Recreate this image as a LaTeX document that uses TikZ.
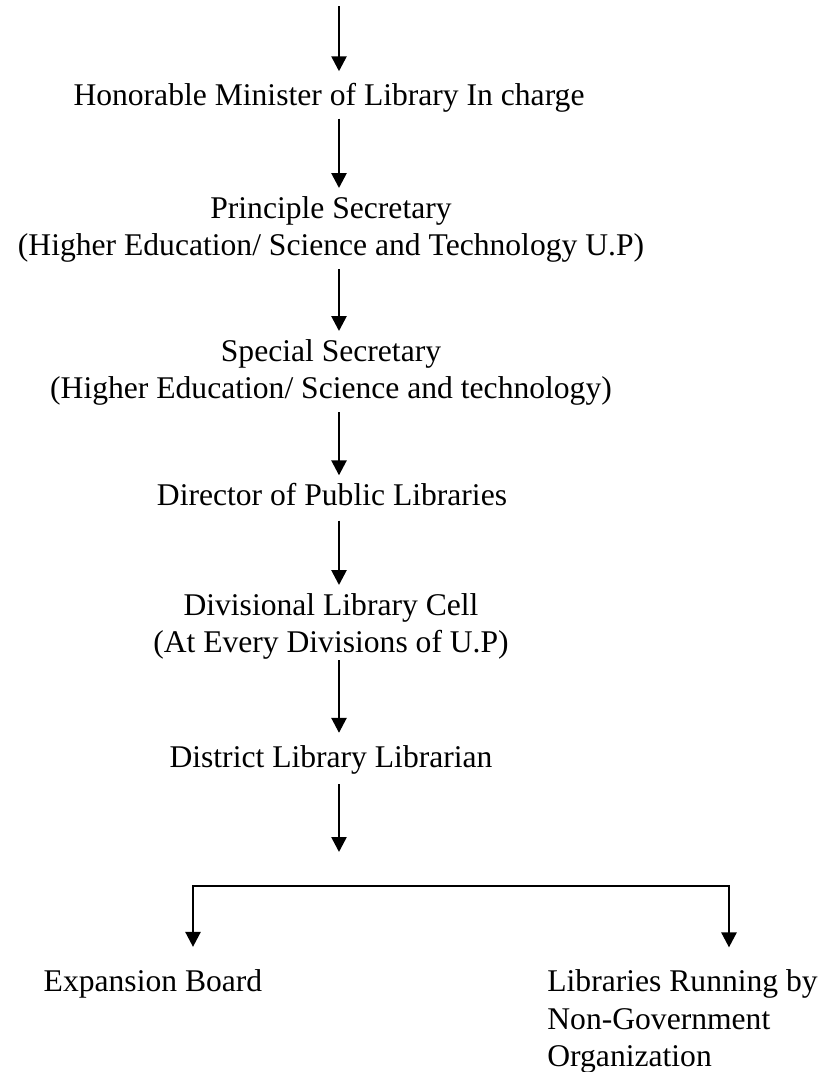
\documentclass[tikz,border=0pt]{standalone}
\usepackage{fontspec}
\setmainfont{Liberation Serif}
\usetikzlibrary{arrows.meta, positioning}

\begin{document}
\begin{tikzpicture}[x=0.5pt, y=-0.5pt,
    post/.style={align=center, inner sep=0pt, font=\fontsize{15.8}{18.8}\selectfont},
    arr/.style={-{Triangle[length=7.5pt, width=7.5pt]}, line width=1.3pt, shorten <=3pt, shorten >=4pt},
    twoarr/.style={{Triangle[length=7.5pt, width=7.5pt]}-{Triangle[length=7.5pt, width=7.5pt]}, line width=1.3pt},
]
\useasboundingbox (0,0) rectangle (824,1072);

% vertical axis of the chart
\coordinate (axis) at (339,0);
\coordinate (start) at (339,6);

% Posts, top to bottom
\node[post] (minister) at (329,97.6) {Honorable Minister of Library In charge};
\node[post] (principal) at (331,229.6) {Principle Secretary\\(Higher Education/ Science and Technology U.P)};
\node[post] (special) at (331,372.6) {Special Secretary\\(Higher Education/ Science and technology)};
\node[post] (director) at (332,495) {Director of Public Libraries};
\node[post] (division) at (331,626.6) {Divisional Library Cell\\(At Every Divisions of U.P)};
\node[post] (district) at (331,759.6) {District Library Librarian};

% Branches at the bottom
\node[post] (expansion) at (153,983.6) {Expansion Board};
\node[post, align=left, anchor=north west] (ngo) at (547,969.4) {Libraries Running by\\Non-Government\\Organization};

\coordinate (gap) at (339,852);
\coordinate (leftdrop) at (193,886);
\coordinate (rightdrop) at (729,886);

% Arrows down the chain
\draw[arr, shorten <=0pt, shorten >=5.7pt] (start) -- (minister.north -| axis);
\draw[arr] (minister.south -| axis) -- (principal.north -| axis);
\draw[arr] (principal.south -| axis) -- (special.north -| axis);
\draw[arr] (special.south -| axis) -- (director.north -| axis);
\draw[arr, shorten <=7pt] (director.south -| axis) -- (division.north -| axis);
\draw[arr, shorten <=0pt, shorten >=6pt] (division.south -| axis) -- (district.north -| axis);
\draw[arr, shorten >=0pt, shorten <=5pt] (district.south -| axis) -- (gap);

% Split into the two branches
\draw[twoarr, shorten <=11pt, shorten >=11pt] (leftdrop |- expansion.north) -- (leftdrop) -- (rightdrop) -- (rightdrop |- ngo.north);

\end{tikzpicture}
\end{document}
